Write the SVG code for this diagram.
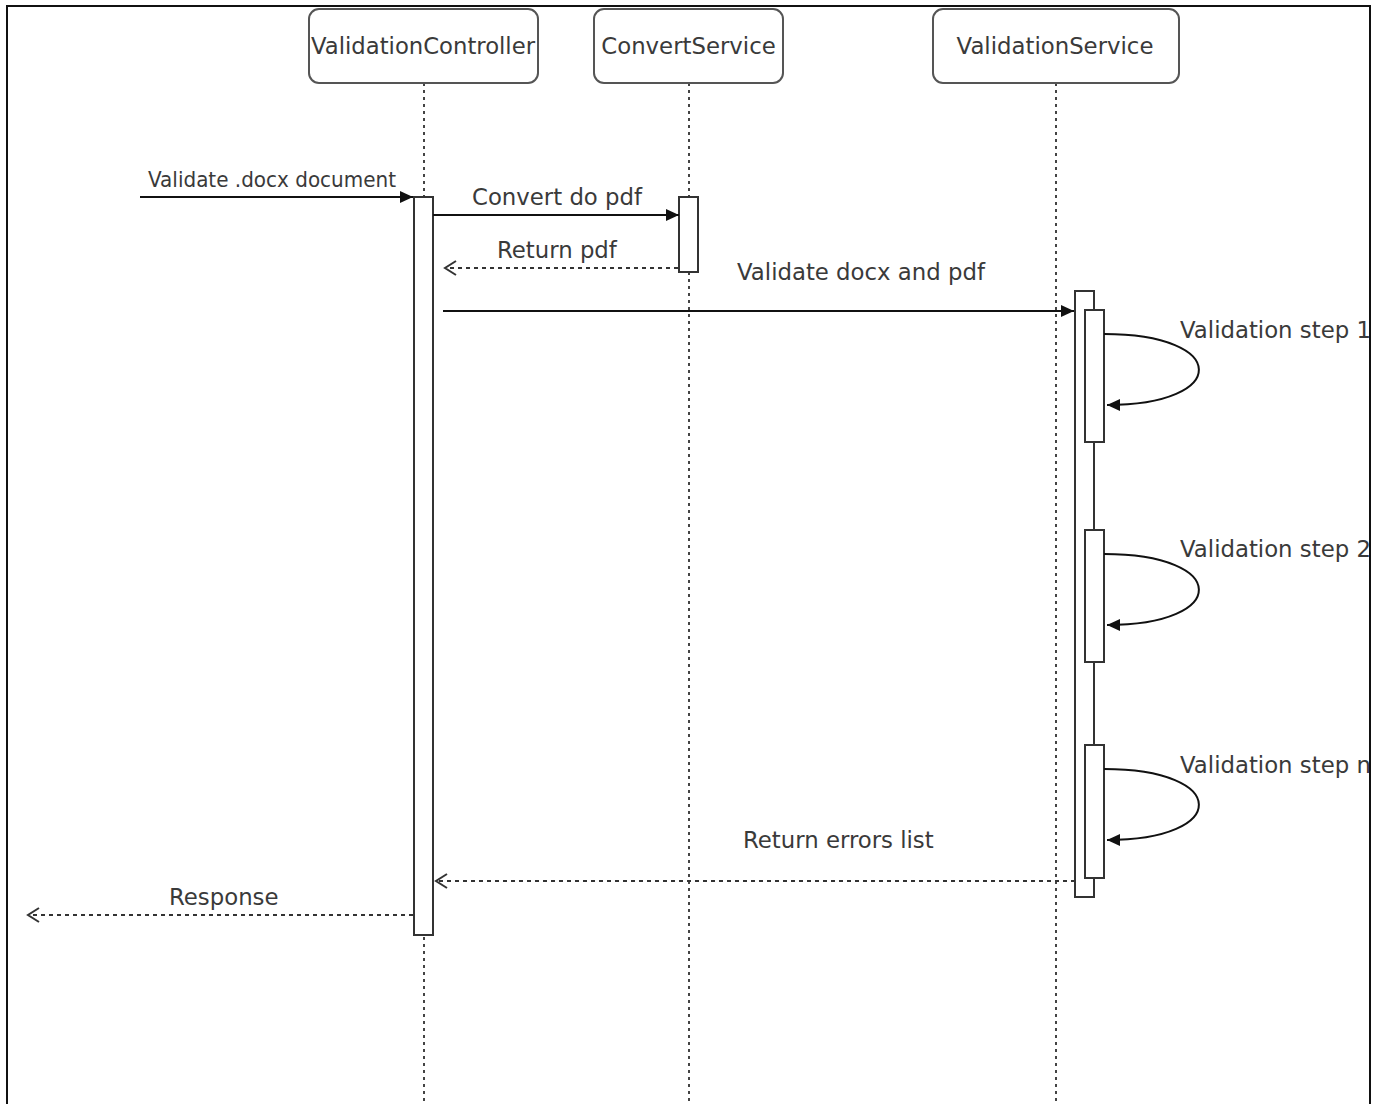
<svg xmlns="http://www.w3.org/2000/svg" width="1382" height="1104" viewBox="0 0 1382 1104">
<style>
.box{fill:#fff;stroke:#555;stroke-width:2}
.life{stroke:#444;stroke-width:2;stroke-dasharray:3 4;fill:none}
.act{fill:#fff;stroke:#333;stroke-width:2}
.msg{stroke:#111;stroke-width:2;fill:none}
.ret{stroke:#333;stroke-width:2;stroke-dasharray:4 4;fill:none}
text{font-family:"DejaVu Sans",Verdana,sans-serif;font-size:22.8px;fill:#3a3a3a}
</style>
<defs>
<marker id="fill" markerUnits="userSpaceOnUse" markerWidth="14" markerHeight="12" refX="13" refY="6" orient="auto">
<path d="M0,0 L13,6 L0,12 Z" fill="#111"/>
</marker>
<marker id="open" markerUnits="userSpaceOnUse" markerWidth="14" markerHeight="16" refX="12" refY="8" orient="auto">
<path d="M1,1 L12,8 L1,15" fill="none" stroke="#333" stroke-width="2"/>
</marker>
<clipPath id="inside"><rect x="8" y="7" width="1361" height="1100"/></clipPath>
</defs>
<rect width="1382" height="1104" fill="#fff"/>
<g clip-path="url(#inside)">
<g id="lifelines">
<line class="life" x1="424" y1="83" x2="424" y2="1104"/>
<line class="life" x1="689" y1="83" x2="689" y2="1104"/>
<line class="life" x1="1056" y1="83" x2="1056" y2="1104"/>
</g>
<g id="ValidationController">
<rect class="box" x="309" y="9" width="229" height="74" rx="10"/>
<text x="311" y="54" textLength="224" lengthAdjust="spacingAndGlyphs">ValidationController</text>
<rect class="act" x="414" y="197" width="19" height="738"/>
</g>
<g id="ConvertService">
<rect class="box" x="594" y="9" width="189" height="74" rx="10"/>
<text x="688.5" y="54" text-anchor="middle">ConvertService</text>
<rect class="act" x="679" y="197" width="19" height="75"/>
</g>
<g id="ValidationService">
<rect class="box" x="933" y="9" width="246" height="74" rx="10"/>
<text x="1055" y="54" text-anchor="middle">ValidationService</text>
<rect class="act" x="1075" y="291" width="19" height="606"/>
<rect class="act" x="1085" y="310" width="19" height="132"/>
<rect class="act" x="1085" y="530" width="19" height="132"/>
<rect class="act" x="1085" y="745" width="19" height="133"/>
</g>
<g id="connectors">
<line class="msg" x1="140" y1="197" x2="413" y2="197" marker-end="url(#fill)"/>
<line class="msg" x1="433" y1="215" x2="679" y2="215" marker-end="url(#fill)"/>
<line class="ret" x1="678" y1="268" x2="445" y2="268" marker-end="url(#open)"/>
<line class="msg" x1="443" y1="311" x2="1074" y2="311" marker-end="url(#fill)"/>
<path class="msg" d="M1104,334 C1230,334 1230,405 1107,405" marker-end="url(#fill)"/>
<path class="msg" d="M1104,554 C1230,554 1230,625 1107,625" marker-end="url(#fill)"/>
<path class="msg" d="M1104,769 C1230,769 1230,840 1107,840" marker-end="url(#fill)"/>
<line class="ret" x1="1075" y1="881" x2="436" y2="881" marker-end="url(#open)"/>
<line class="ret" x1="413" y1="915" x2="28" y2="915" marker-end="url(#open)"/>
</g>
<g id="labels">
<text x="148" y="187" style="font-size:22px" textLength="248" lengthAdjust="spacingAndGlyphs">Validate .docx document</text>
<text x="472" y="205">Convert do pdf</text>
<text x="497" y="258">Return pdf</text>
<text x="737" y="280">Validate docx and pdf</text>
<text x="1180" y="338">Validation step 1</text>
<text x="1180" y="557">Validation step 2</text>
<text x="1180" y="773">Validation step n</text>
<text x="743" y="848">Return errors list</text>
<text x="169" y="905">Response</text>
</g>
</g>
<rect x="7" y="6" width="1363" height="1110" fill="none" stroke="#111" stroke-width="2"/>
</svg>
